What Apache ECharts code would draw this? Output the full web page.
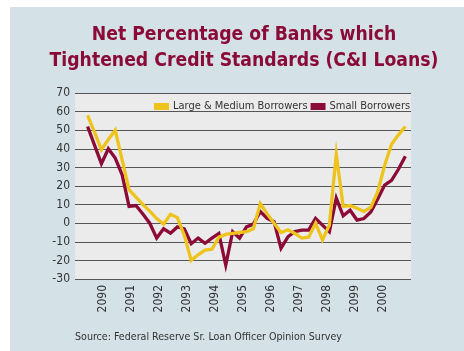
<!DOCTYPE html>
<html>
<head>
<meta charset="utf-8">
<script src="https://cdn.jsdelivr.net/npm/echarts@6/dist/echarts.min.js"></script>
<style>
html,body{margin:0;padding:0;background:#fff;}
#chart{width:464px;height:351px;}
</style>
</head>
<body>
<div id="chart"></div>
<script>
// Tick labels on the x axis (as printed in the source)
const yearLabels = ['2090','2091','2092','2093','2094','2095','2096','2097','2098','2099','2000'];
const firstYear = 1990;
// Survey periods: first observation and spacing (in years)
const periodStart = 1989.45;
const periodStep = 0.2467;
// Net percentage tightening – Large & Medium Borrowers
const largeMedium = [58,49,39.5,45,50,34,18,14,10,6.5,2.5,-0.5,4.8,3,-6.5,-20,-17,-14.5,-14,-7.5,-6,-5.5,-5,-4.6,-3,10.5,5,0,-5,-3.5,-5.5,-8,-7.5,0,-9,-1,37,9,9.5,8,6.3,8.5,17,31,42.5,47.5,52];
// Net percentage tightening – Small Borrowers
const small = [52,42,32,40,35,26,9,9.5,5,0,-8,-3,-5.4,-2,-3,-11,-8,-10.8,-8,-5.5,-22.5,-4.6,-8,-2,-0.5,6.3,2.6,0.8,-13.5,-7.3,-4.5,-3.7,-3.7,2.6,-1,-4.6,13.5,4,7,1.7,2.5,6,13,20.5,23,29,36];
const sourceNote = 'Source: Federal Reserve Sr. Loan Officer Opinion Survey';

const FONT = '"DejaVu Sans Condensed","Liberation Sans Narrow","Roboto",sans-serif';
const toPairs = arr => arr.map((v, i) => [periodStart + i * periodStep, v]);

const chart = echarts.init(document.getElementById('chart'), null, {renderer: 'canvas'});
chart.setOption({
  backgroundColor: '#ffffff',
  animation: false,
  graphic: [{
    type: 'rect', left: 10, top: 7, z: -10,
    shape: {width: 454, height: 344},
    style: {fill: '#d4e1e6'}
  }, {
    type: 'text', left: 75, top: 332, z: 10,
    style: {text: sourceNote, fill: '#333', font: '10.6px "DejaVu Sans Condensed", sans-serif'}
  }],
  title: {
    text: 'Net Percentage of Banks which\nTightened Credit Standards (C&I Loans)',
    left: 239, top: 17, textAlign: 'center',
    textStyle: {fontFamily: FONT, fontSize: 19.2, fontWeight: 'bold', color: '#8b0b38', lineHeight: 26}
  },
  legend: {
    data: ['Large & Medium Borrowers', 'Small Borrowers'],
    left: 149, top: 96, icon: 'rect', itemWidth: 15, itemHeight: 7, itemGap: 3,
    textStyle: {fontFamily: FONT, fontSize: 11, color: '#333', padding: [0,0,0,-1]}
  },
  grid: {left: 75, right: 53, top: 93, bottom: 72, show: true, backgroundColor: '#ebebeb', borderWidth: 0},
  xAxis: {
    type: 'value', min: 1989, max: 2001, interval: 1,
    axisLine: {show: false}, axisTick: {show: false}, splitLine: {show: false},
    axisLabel: {
      rotate: 90, margin: 6, fontFamily: FONT, fontSize: 12, color: '#333',
      formatter: v => {
        const k = Math.round(v - firstYear);
        return (k >= 0 && k < yearLabels.length) ? yearLabels[k] : '';
      }
    }
  },
  yAxis: {
    type: 'value', min: -30, max: 70, interval: 10,
    axisLine: {show: false}, axisTick: {show: false},
    splitLine: {show: true, lineStyle: {color: '#555', width: 1}},
    axisLabel: {fontFamily: FONT, fontSize: 12, color: '#333', margin: 5}
  },
  series: [
    {
      name: 'Small Borrowers', type: 'line', data: toPairs(small),
      symbol: 'none', color: '#8b0a38',
      lineStyle: {color: '#8b0a38', width: 3.3, join: 'miter'}
    },
    {
      name: 'Large & Medium Borrowers', type: 'line', data: toPairs(largeMedium),
      symbol: 'none', color: '#eec31c',
      lineStyle: {color: '#eec31c', width: 3.3, join: 'miter'}
    }
  ]
});
</script>
</body>
</html>
